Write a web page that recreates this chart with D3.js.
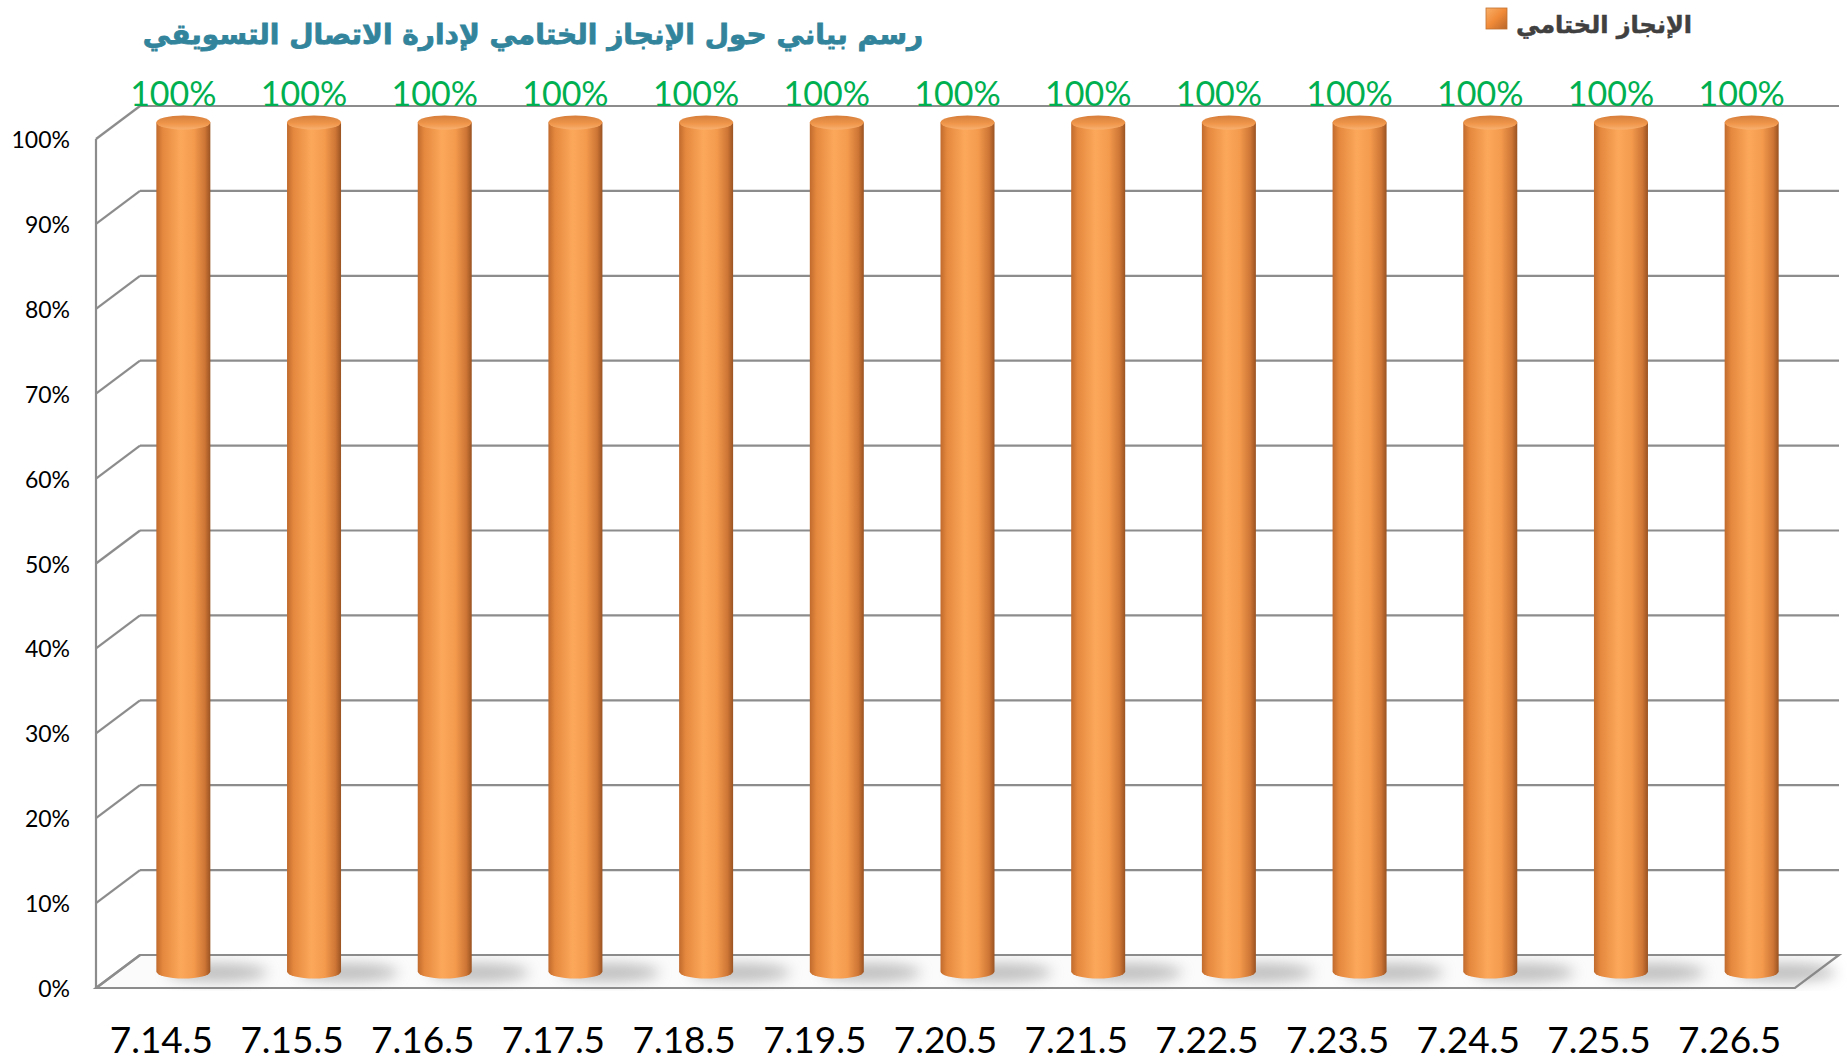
<!DOCTYPE html>
<html><head><meta charset="utf-8">
<script src="https://cdn.jsdelivr.net/npm/d3@7"></script>
<style>html,body{margin:0;padding:0;background:#fff;overflow:hidden}</style>
</head><body>
<svg id="c" width="1847" height="1061"></svg>
<script>
const categories = ["7.14.5","7.15.5","7.16.5","7.17.5","7.18.5","7.19.5","7.20.5","7.21.5","7.22.5","7.23.5","7.24.5","7.25.5","7.26.5"];
const values = [1,1,1,1,1,1,1,1,1,1,1,1,1];
const yTicks = [0,0.1,0.2,0.3,0.4,0.5,0.6,0.7,0.8,0.9,1.0];
const seriesName = "الإنجاز الختامي";
const title = "رسم بياني حول الإنجاز الختامي لإدارة الاتصال التسويقي";

const svg = d3.select("#c");
const front = {x0: 96, x1: 1795, y0: 988, y1: 139};
const DX = 44, DY = -33;

const x = d3.scaleBand().domain(categories).range([front.x0, front.x1]);
const y = d3.scaleLinear().domain([0, 1]).range([front.y0, front.y1]);

const defs = svg.append("defs");
const bodyG = defs.append("linearGradient").attr("id","body").attr("x1","0").attr("x2","1").attr("y1","0").attr("y2","0");
[[0,"#c06a2d"],[0.12,"#e4883e"],[0.45,"#fca85b"],[0.7,"#f39a4d"],[0.9,"#cd7535"],[1,"#9a5322"]].forEach(s=>bodyG.append("stop").attr("offset",s[0]).attr("stop-color",s[1]));
const topG = defs.append("linearGradient").attr("id","top").attr("x1","0").attr("x2","0").attr("y1","0").attr("y2","1");
[[0,"#d67e3b"],[0.6,"#f0974c"],[1,"#f8b070"]].forEach(s=>topG.append("stop").attr("offset",s[0]).attr("stop-color",s[1]));
const blur = defs.append("filter").attr("id","blur").attr("x","-50%").attr("y","-50%").attr("width","200%").attr("height","200%");
blur.append("feGaussianBlur").attr("stdDeviation", 7);
const legG = defs.append("linearGradient").attr("id","leg").attr("x1","0").attr("x2","1").attr("y1","0").attr("y2","1");
[[0,"#f9b06a"],[0.5,"#f08a38"],[1,"#b8662c"]].forEach(s=>legG.append("stop").attr("offset",s[0]).attr("stop-color",s[1]));

const grid = "#8c8c8c";
// floor
svg.append("path")
  .attr("d", `M${front.x0},${y(0)} L${front.x1},${y(0)} L${front.x1+DX},${y(0)+DY} L${front.x0+DX},${y(0)+DY} Z`)
  .attr("fill","#fbfbfb").attr("stroke",grid).attr("stroke-width",2.2);

// gridlines: back wall + side wall diagonals
yTicks.forEach(t => {
  const yf = y(t);
  svg.append("line").attr("x1", front.x0 + DX).attr("x2", front.x1 + DX)
    .attr("y1", yf + DY).attr("y2", yf + DY).attr("stroke", grid).attr("stroke-width", 2.2);
  svg.append("line").attr("x1", front.x0).attr("x2", front.x0 + DX)
    .attr("y1", yf).attr("y2", yf + DY).attr("stroke", grid).attr("stroke-width", 2.2);
});
svg.append("line").attr("x1", front.x0).attr("x2", front.x0).attr("y1", y(0)).attr("y2", y(1))
  .attr("stroke", grid).attr("stroke-width", 2.2);

// shadows
const R = 27, RY = 7;
const cx = d => x(d) + x.bandwidth()/2 + DX/2;
svg.append("g").selectAll("ellipse").data(categories).join("ellipse")
  .attr("cx", d => cx(d) + 34).attr("cy", y(0) + DY/2 + 1)
  .attr("rx", 50).attr("ry", 9).attr("fill", "#808080").attr("opacity", 0.5).attr("filter","url(#blur)");

// cylinders
const bars = svg.append("g").selectAll("g").data(categories.map((c,i)=>({c, v: values[i]}))).join("g");
bars.append("path").attr("d", d => {
  const c = cx(d.c), yt = y(d.v) + DY/2, yb = y(0) + DY/2;
  return `M${c-R},${yt} L${c-R},${yb} A${R},${RY} 0 0 0 ${c+R},${yb} L${c+R},${yt} Z`;
}).attr("fill","url(#body)");
bars.append("ellipse").attr("cx", d => cx(d.c)).attr("cy", d => y(d.v) + DY/2)
  .attr("rx", R).attr("ry", RY).attr("fill","url(#top)");

// data labels
svg.append("g").selectAll("text").data(categories.map((c,i)=>({c, v: values[i]}))).join("text")
  .attr("x", d => cx(d.c) - 10).attr("y", d => y(d.v) + DY/2 - 17)
  .attr("text-anchor","middle").attr("font-family","Lato, 'Open Sans', sans-serif").attr("font-size", 34)
  .attr("fill","#00b050").text(d => d3.format(".0%")(d.v));

// y tick labels
svg.append("g").selectAll("text").data(yTicks).join("text")
  .attr("x", 70).attr("y", d => y(d) + 9).attr("text-anchor","end")
  .attr("font-family","Lato, 'Open Sans', sans-serif").attr("font-size", 23).attr("fill","#000")
  .text(d => d3.format(".0%")(d));

// category labels
svg.append("g").selectAll("text").data(categories).join("text")
  .attr("x", d => x(d) + x.bandwidth()/2).attr("y", 1053).attr("text-anchor","middle")
  .attr("font-family","Lato, 'Open Sans', sans-serif").attr("font-size", 37).attr("fill","#000")
  .text(d => d);

// title
svg.append("text").attr("x", 533).attr("y", 44).attr("text-anchor","middle").attr("direction","rtl")
  .attr("font-family","'DejaVu Sans', sans-serif").attr("font-weight","bold").attr("font-size", 28)
  .attr("fill","#31849b").attr("stroke","#31849b").attr("stroke-width",0.8).text(title);

// legend
svg.append("rect").attr("x", 1486).attr("y", 8).attr("width", 21).attr("height", 21).attr("fill","url(#leg)").attr("stroke","#c07030").attr("stroke-width",0.8);
svg.append("text").attr("x", 1692).attr("y", 33).attr("text-anchor","start").attr("direction","rtl")
  .attr("font-family","'DejaVu Sans', sans-serif").attr("font-weight","bold").attr("font-size", 24)
  .attr("fill","#404040").attr("stroke","#404040").attr("stroke-width",0.5).text(seriesName);
</script>
</body></html>
